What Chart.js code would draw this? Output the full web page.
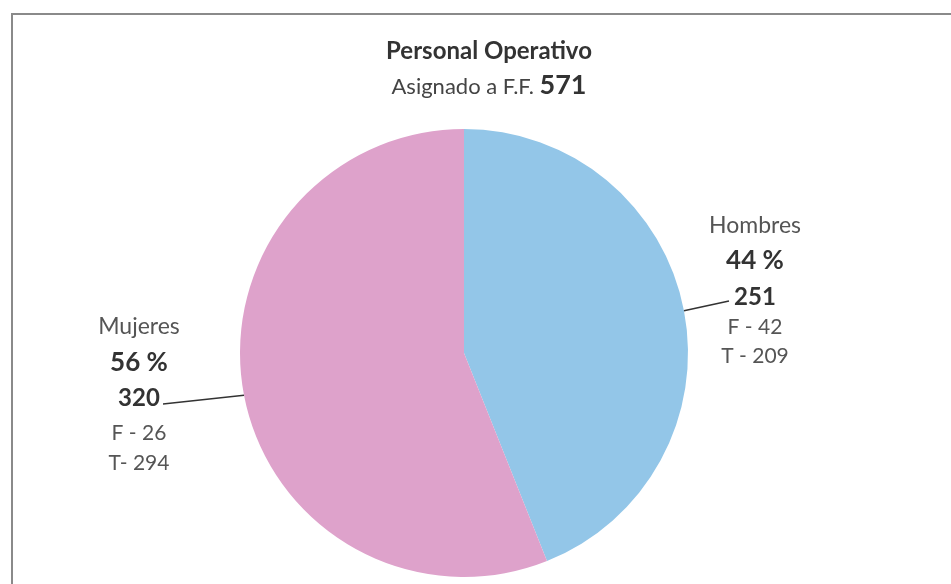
<!DOCTYPE html>
<html>
<head>
<meta charset="utf-8">
<script src="https://cdn.jsdelivr.net/npm/chart.js@4"></script>
<style>
html,body{margin:0;padding:0;background:#fff;}
#wrap{position:relative;width:951px;height:584px;}
canvas{display:block;}
</style>
</head>
<body>
<div id="wrap"><canvas id="c" width="951" height="584"></canvas></div>
<script>
const categories = ["Hombres", "Mujeres"];
const values = [251, 320];
const percents = ["44 %", "56 %"];
const subF = ["F - 42", "F - 26"];
const subT = ["T - 209", "T- 294"];
const titleLine1 = "Personal Operativo";
const titleLine2 = "Asignado a F.F. ";
const totalLabel = "571";
const colors = ["#93c6e8", "#dea2cb"];

const FONT = "Lato, 'Open Sans', sans-serif";

const framePlugin = {
  id: 'frame',
  beforeDraw(chart) {
    const ctx = chart.ctx;
    ctx.save();
    ctx.fillStyle = '#fff';
    ctx.fillRect(0, 0, chart.width, chart.height);
    ctx.strokeStyle = '#8a8a8a';
    ctx.lineWidth = 2;
    ctx.beginPath();
    ctx.moveTo(12, 584);
    ctx.lineTo(12, 14);
    ctx.lineTo(951, 14);
    ctx.stroke();
    ctx.restore();
  }
};

const labelPlugin = {
  id: 'labels',
  afterDatasetsDraw(chart) {
    const ctx = chart.ctx;
    const meta = chart.getDatasetMeta(0);
    ctx.save();
    // Title
    const tcx = 489;
    ctx.fillStyle = '#333';
    ctx.textAlign = 'center';
    ctx.textBaseline = 'middle';
    ctx.font = "bold 24px " + FONT;
    ctx.fillText(titleLine1, tcx, 51);
    ctx.font = "22px " + FONT;
    const w1 = ctx.measureText(titleLine2).width;
    ctx.font = "bold 27px " + FONT;
    const w2 = ctx.measureText(totalLabel).width;
    let x0 = tcx - (w1 + w2) / 2;
    ctx.textAlign = 'left';
    ctx.font = "22px " + FONT;
    ctx.fillStyle = '#444';
    ctx.fillText(titleLine2, x0, 87);
    ctx.font = "bold 27px " + FONT;
    ctx.fillStyle = '#333';
    ctx.fillText(totalLabel, x0 + w1, 85);

    // Slice labels
    const cfg = [
      {cx: 755, ys: [226, 261, 297, 327, 356], endX: 729, endY: 301},
      {cx: 139, ys: [327, 363, 398, 433, 463], endX: 163, endY: 404}
    ];
    meta.data.forEach((arc, i) => {
      const c = cfg[i];
      const p = arc.getProps(['x', 'y', 'startAngle', 'endAngle', 'outerRadius'], true);
      const mid = (p.startAngle + p.endAngle) / 2;
      const sx = p.x + Math.cos(mid) * p.outerRadius;
      const sy = p.y + Math.sin(mid) * p.outerRadius;
      ctx.strokeStyle = '#333';
      ctx.lineWidth = 1.6;
      ctx.beginPath();
      ctx.moveTo(sx, sy);
      ctx.lineTo(c.endX, c.endY);
      ctx.stroke();

      ctx.textAlign = 'center';
      ctx.textBaseline = 'middle';
      ctx.fillStyle = '#555';
      ctx.font = "23px " + FONT;
      ctx.fillText(categories[i], c.cx, c.ys[0]);
      ctx.fillStyle = '#333';
      ctx.font = "bold 26px " + FONT;
      ctx.fillText(percents[i], c.cx, c.ys[1]);
      ctx.font = "bold 24px " + FONT;
      ctx.fillText(String(values[i]), c.cx, c.ys[2]);
      ctx.fillStyle = '#555';
      ctx.font = "21px " + FONT;
      ctx.fillText(subF[i], c.cx, c.ys[3]);
      ctx.fillText(subT[i], c.cx, c.ys[4]);
    });
    ctx.restore();
  }
};

new Chart(document.getElementById('c'), {
  type: 'pie',
  data: {
    labels: categories,
    datasets: [{
      data: values,
      backgroundColor: colors,
      borderWidth: 0
    }]
  },
  options: {
    responsive: false,
    animation: false,
    layout: {padding: {left: 240, right: 263, top: 129, bottom: 7}},
    plugins: {
      legend: {display: false},
      tooltip: {enabled: false},
      title: {display: false}
    }
  },
  plugins: [framePlugin, labelPlugin]
});
</script>
</body>
</html>
